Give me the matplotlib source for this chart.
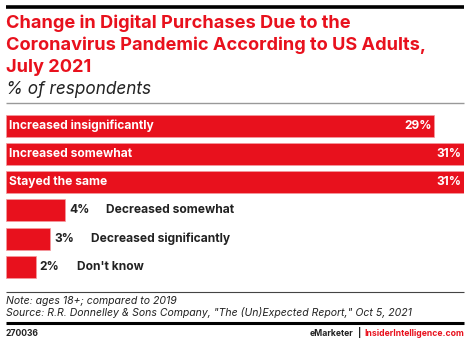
import matplotlib
matplotlib.use("Agg")
import matplotlib.pyplot as plt
from matplotlib.lines import Line2D
from matplotlib.transforms import offset_copy

categories = ["Increased insignificantly", "Increased somewhat", "Stayed the same",
              "Decreased somewhat", "Decreased significantly", "Don't know"]
values = [29, 31, 31, 4, 3, 2]

RED = "#E8111D"
W, H = 470, 342
FONT = "Inter"

fig = plt.figure(figsize=(W / 100, H / 100), dpi=100)

def fx(px):
    return px / W

def fy(py):
    return 1 - py / H

def hline(y, x0, x1, lw, color):
    fig.add_artist(Line2D([fx(x0), fx(x1)], [fy(y), fy(y)], lw=lw, color=color,
                          transform=fig.transFigure, solid_capstyle="butt"))

# top rule
hline(7, 6, 464, 2.6, "black")
# title
title_lines = ["Change in Digital Purchases Due to the",
               "Coronavirus Pandemic According to US Adults,",
               "July 2021"]
for i, t in enumerate(title_lines):
    fig.text(fx(6), fy(23 + 22 * i), t, color=RED, fontsize=13.1, fontweight="bold",
             family=FONT, va="center", ha="left")
fig.text(fx(6), fy(89), "% of respondents", color="#222222", fontsize=12.4, style="italic",
         family=FONT, va="center", ha="left")
hline(103, 6, 464, 1.0, "#999999")

# bars axes
spacing = 28.3
top = 125.5 - spacing / 2
bottom = 267 + spacing / 2
ax = fig.add_axes([fx(6), fy(bottom), fx(464) - fx(6), (bottom - top) / H])
ax.set_xlim(0, 31)
ax.set_ylim(len(values) - 0.5, -0.5)
ax.axis("off")
ypos = list(range(len(values)))
ax.barh(ypos, values, height=22 / spacing, color=RED, edgecolor="#F39AA0", linewidth=0.5)

LFS = 8.65
for y, v, c in zip(ypos, values, categories):
    if v >= 10:
        ax.text(0, y, c, transform=offset_copy(ax.transData, fig, x=3, y=0, units="dots"),
                color="white", fontsize=LFS, fontweight="bold", family=FONT,
                va="center", ha="left")
        ax.text(v, y, f"{v}%", transform=offset_copy(ax.transData, fig, x=-3, y=0, units="dots"),
                color="white", fontsize=LFS, fontweight="bold", family=FONT,
                va="center", ha="right")
    else:
        ax.text(v, y, f"{v}%", transform=offset_copy(ax.transData, fig, x=4, y=0, units="dots"),
                color="#222222", fontsize=LFS, fontweight="bold", family=FONT,
                va="center", ha="left")
        ax.text(v, y, c, transform=offset_copy(ax.transData, fig, x=41, y=0, units="dots"),
                color="#222222", fontsize=LFS, fontweight="bold", family=FONT,
                va="center", ha="left")

# footer
hline(291.5, 6, 464, 0.8, "#444444")
fig.text(fx(6), fy(300.5), "Note: ages 18+; compared to 2019", color="#222222",
         fontsize=7.55, style="italic", family=FONT, va="center", ha="left")
fig.text(fx(6), fy(313), "Source: R.R. Donnelley & Sons Company, \"The (Un)Expected Report,\" Oct 5, 2021",
         color="#222222", fontsize=7.55, style="italic", family=FONT, va="center", ha="left")
hline(323, 6, 464, 2.2, "black")
fig.text(fx(6), fy(333), "270036", color="#222222", fontsize=6.2, fontweight="bold",
         family=FONT, va="center", ha="left")
fig.text(fx(464), fy(333), "InsiderIntelligence.com", color=RED, fontsize=6.2,
         fontweight="bold", family=FONT, va="center", ha="right")
fig.text(fx(360), fy(333), "|", color="#222222", fontsize=6.2,
         fontweight="bold", family=FONT, va="center", ha="center")
fig.text(fx(353), fy(333), "eMarketer", color="#222222", fontsize=6.2,
         fontweight="bold", family=FONT, va="center", ha="right")

fig.savefig("out.png", dpi=100)
